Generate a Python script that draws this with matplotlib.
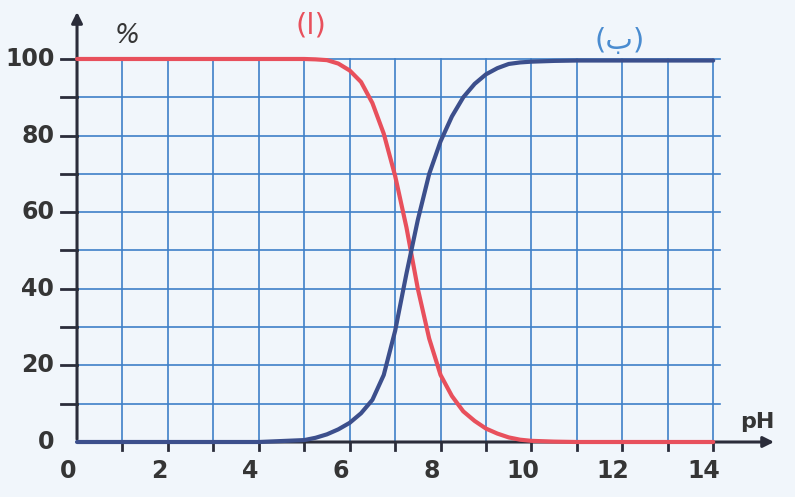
import numpy as np
import matplotlib.pyplot as plt

# curve values (pH, %)
ph = [0, 1, 2, 3, 4, 5, 5.25, 5.5, 5.75, 6, 6.25, 6.5, 6.75, 7, 7.25, 7.5, 7.75,
      8, 8.25, 8.5, 8.75, 9, 9.25, 9.5, 9.75, 10, 10.5, 11, 12, 13, 14]
acid = [100, 100, 100, 100, 100, 100, 99.9, 99.7, 98.8, 97, 94, 88.5, 80.5, 69.5, 56, 40, 27,
        17.5, 12, 8, 5.5, 3.5, 2.2, 1.2, 0.6, 0.3, 0.1, 0, 0, 0, 0]
base = [0, 0, 0, 0, 0, 0.5, 1.1, 2, 3.3, 5, 7.5, 11, 17.5, 29, 44, 58, 70,
        78.5, 85, 90, 93.5, 96, 97.6, 98.7, 99.1, 99.3, 99.5, 99.6, 99.6, 99.6, 99.6]

x_ticks = [0, 2, 4, 6, 8, 10, 12, 14]
y_ticks = [0, 20, 40, 60, 80, 100]

label_a = '(ا)'
label_b = '(ب)'

bg = '#f1f6fb'
grid_c = '#3f80c8'
axis_c = '#2b2d3a'
red = '#e8505c'
blue = '#3c4f8c'
txt = '#353535'

fig = plt.figure(figsize=(7.95, 4.97), dpi=100, facecolor=bg)
ax = fig.add_axes([0, 0, 1, 1])
ax.set_facecolor(bg)
ax.set_xlim(-1.695, 15.80)
ax.set_ylim(-14.36, 115.4)
ax.axis('off')

# grid
for gx in range(1, 15):
    ax.plot([gx, gx], [0, 100], color=grid_c, lw=1.2, zorder=1)
for gy in range(10, 101, 10):
    ax.plot([0, 14.15], [gy, gy], color=grid_c, lw=1.2, zorder=1)

# axes with arrows
ax.annotate('', xy=(15.4, 0), xytext=(0, 0),
            arrowprops=dict(arrowstyle='-|>', color=axis_c, lw=2.2, mutation_scale=16), zorder=3)
ax.annotate('', xy=(0, 113), xytext=(0, 0),
            arrowprops=dict(arrowstyle='-|>', color=axis_c, lw=2.2, mutation_scale=16), zorder=3)
for gx in range(1, 15):
    ax.plot([gx, gx], [0, -2.2], color=axis_c, lw=2, zorder=3)
for gy in range(10, 101, 10):
    ax.plot([-0.35, 0], [gy, gy], color=axis_c, lw=2, zorder=3)

# curves
ax.plot(ph, acid, color=red, lw=3, zorder=4, solid_capstyle='round', solid_joinstyle='round')
ax.plot(ph, base, color=blue, lw=3, zorder=4, solid_capstyle='round', solid_joinstyle='round')

# tick labels
for t in x_ticks:
    ax.text(t - 0.2, -4.5, str(t), ha='center', va='top', fontsize=17,
            fontweight='bold', color=txt)
for t in y_ticks:
    ax.text(-0.5, t, str(t), ha='right', va='center', fontsize=17,
            fontweight='bold', color=txt)

ax.text(1.1, 102.5, '%', ha='center', va='bottom', fontsize=19, style='italic', color=txt)
ax.text(14.6, 2.5, 'pH', ha='left', va='bottom', fontsize=16, fontweight='bold', color=txt)
ax.text(5.15, 105, label_a, ha='center', va='bottom', fontsize=21, color=red)
ax.text(11.95, 101, label_b, ha='center', va='bottom', fontsize=21, color='#4a8cd0')

fig.savefig('out.png', dpi=100, facecolor=bg)
